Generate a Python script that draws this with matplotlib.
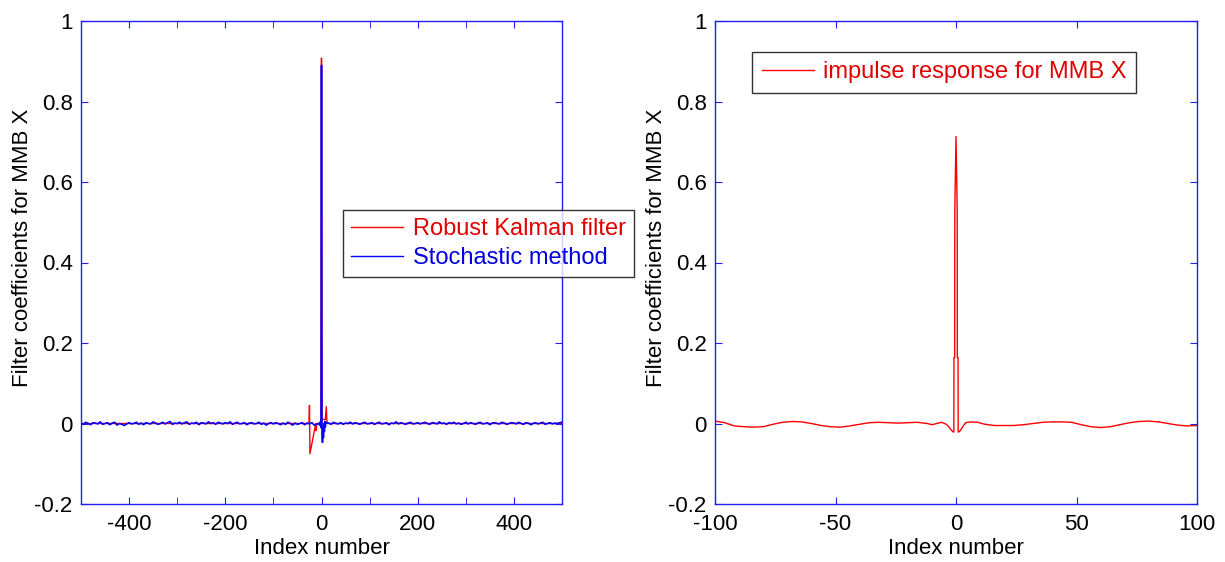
"""Filter coefficients for MMB X: Kalman vs stochastic method, and impulse response."""

import numpy as np
import matplotlib.pyplot as plt
from matplotlib.ticker import FixedLocator

plt.rcParams["font.family"] = ["Liberation Sans", "DejaVu Sans"]
plt.rcParams["axes.unicode_minus"] = False

# ---- left panel data -------------------------------------------------------
# stochastic method: background noise every 5 samples (thousandths)
noise_step = 5
blue_noise_milli = [
    1, -2, 3, 0, -3, 2, 1, -1, 4, -2, 0, 2, -3, 1, 3, -4, 0, -2, -5, -1,
    2, -1, 0, 3, -2, 1, -3, 2, 0, -1, 4, 1, -2, 0, 3, -1, 2, 5, -2, 1,
    0, 3, -1, 2, 4, -2, 1, 0, 3, -3, 2, 1, -1, 4, 0, 2, -2, 3, 1, -1,
    2, 0, 4, -2, 1, 3, -1, 0, 2, -3, 1, 2, -1, 0, 3, -2, 1, -4, 0, 2,
    -1, 2, 0, -3, 1, -2, 3, 0, -4, 1, -2, 0, 2, -3, 1, -1, 2, -4, -2, 0,
    0, -3, 2, 1, -2, 3, 0, -1, 2, -2, 1, 0, 3, -1, 2, 0, -2, 1, 3, -1,
    0, 2, -2, 1, 3, -1, 0, 2, -3, 1, 0, 4, -1, 2, 0, -2, 1, 3, -1, 0,
    2, -1, 1, 3, 0, -2, 2, 1, -1, 4, 0, 1, -2, 2, 0, 3, -1, 1, -2, 0,
    3, -1, 2, 0, -2, 1, 3, -1, 0, 2, -3, 1, 2, 0, -1, 3, 1, -2, 0, 2,
    1, -1, 3, 0, -2, 2, 1, -3, 0, 2, -1, 1, 3, -2, 0, 2, -1, 1, 0, 2,
    3,
]
# stochastic method around the main tap
blue_center_idx = [-4, -2, -1, 0, 1, 2, 3, 4, 5, 6, 7, 8, 9]
blue_center_val = [-0.004, 0.005, -0.01, 0.89, -0.02, -0.047, -0.01,
                   -0.035, 0.0, -0.02, 0.005, -0.008, 0.003]

# robust Kalman filter
red_idx = [-500, -27, -26, -25, -24, -12, -11, -10, -1, 0, 1, 8, 10, 11, 12, 500]
red_val = [0.0, 0.0, 0.0, 0.045, -0.075, 0.0, -0.018, 0.0, 0.0, 0.908,
           0.01, 0.01, 0.042, 0.01, 0.0, 0.0]

# ---- right panel data ------------------------------------------------------
imp_idx = [-100, -96, -92, -88, -84, -80, -76, -72, -68, -64, -60, -56, -52,
           -48, -44, -40, -36, -32, -28, -24, -20, -16, -12, -10, -8, -6, -4,
           -3, -2, -1.2, -0.9, -0.85, -0.55, -0.5, 0, 0.5, 0.55, 0.85, 0.9,
           1.2, 2, 3, 4, 6, 9, 12, 16, 20, 24, 28, 32, 36, 40, 44, 48, 52, 56,
           60, 64, 68, 72, 76, 80, 84, 88, 92, 96, 100]
imp_val = [0.006, 0.002, -0.006, -0.008, -0.009, -0.008, -0.002, 0.003, 0.005,
           0.004, 0.0, -0.005, -0.008, -0.009, -0.006, -0.002, 0.002, 0.003,
           0.002, 0.001, 0.002, 0.003, 0.0, -0.003, 0.0, 0.003, -0.002,
           -0.008, -0.016, -0.021, -0.021, 0.164, 0.164, 0.528, 0.713, 0.528,
           0.164, 0.164, -0.021, -0.021, -0.016, -0.006, 0.002, 0.004, 0.003,
           -0.002, -0.005, -0.005, -0.005, -0.003, 0.0, 0.003, 0.004, 0.004,
           0.003, -0.003, -0.008, -0.010, -0.008, -0.003, 0.002, 0.005, 0.006,
           0.004, 0.0, -0.004, -0.006, -0.005]

y_ticks = [-0.2, 0, 0.2, 0.4, 0.6, 0.8, 1]
y_tick_labels = ["-0.2", "0", "0.2", "0.4", "0.6", "0.8", "1"]

AXIS_BLUE = "#2020ee"
FS = 16
LEG_FS = 17

# assemble the stochastic trace
noise_x = np.arange(-500, 501, noise_step)
noise_y = np.array(blue_noise_milli) * 1e-3
keep = (noise_x <= -5) | (noise_x >= 10)
blue_x = np.concatenate([noise_x[keep], blue_center_idx])
blue_y = np.concatenate([noise_y[keep], blue_center_val])
order = np.argsort(blue_x, kind="stable")
blue_x, blue_y = blue_x[order], blue_y[order]

fig = plt.figure(figsize=(12.25, 5.62), dpi=100, facecolor="white")
ax1 = fig.add_axes([81 / 1225, 58 / 562, 481 / 1225, 483 / 562])
ax2 = fig.add_axes([715 / 1225, 58 / 562, 482 / 1225, 483 / 562])


def style_axes(ax, ylabel_x):
    for sp in ax.spines.values():
        sp.set_color(AXIS_BLUE)
        sp.set_linewidth(1.0)
    ax.tick_params(which="both", direction="in", top=True, right=True,
                   color=AXIS_BLUE, labelsize=FS, labelcolor="black", length=5)
    ax.tick_params(axis="x", pad=7)
    ax.tick_params(axis="y", pad=6)
    ax.set_ylim(-0.2, 1)
    ax.set_yticks(y_ticks)
    ax.set_yticklabels(y_tick_labels)
    ax.set_ylabel("Filter coefficients for MMB X", fontsize=FS)
    ax.yaxis.set_label_coords(ylabel_x, 0.53)
    ax.set_xlabel("Index number", fontsize=FS, labelpad=2)


# left panel
ax1.plot(red_idx, red_val, color="red", linewidth=1.0, label="Robust Kalman filter")
ax1.plot(blue_x, blue_y, color="blue", linewidth=1.2, label="Stochastic method")
style_axes(ax1, -0.10)
ax1.set_xlim(-500, 500)
ax1.set_xticks([-400, -200, 0, 200, 400])
ax1.xaxis.set_minor_locator(FixedLocator([-300, -100, 100, 300]))
leg1 = ax1.legend(loc="upper left", bbox_to_anchor=(0.545, 0.609),
                  borderaxespad=0, fontsize=LEG_FS, frameon=True, fancybox=False,
                  handlelength=2.2, handletextpad=0.4, borderpad=0.35,
                  labelspacing=0.3)
leg1.get_frame().set_edgecolor("black")
leg1.get_frame().set_linewidth(1.0)
for line in leg1.get_lines():
    line.set_linewidth(1.0)
for txt, col in zip(leg1.get_texts(), ["#e00000", "#0000e0"]):
    txt.set_color(col)

# right panel
ax2.plot(imp_idx, imp_val, color="red", linewidth=1.0,
         label="impulse response for MMB X")
style_axes(ax2, -0.10)
ax2.set_xlim(-100, 100)
ax2.set_xticks([-100, -50, 0, 50, 100])
leg2 = ax2.legend(loc="upper left", bbox_to_anchor=(0.077, 0.936),
                  borderaxespad=0, fontsize=LEG_FS, frameon=True, fancybox=False,
                  handlelength=2.2, handletextpad=0.4, borderpad=0.4)
leg2.get_frame().set_edgecolor("black")
leg2.get_frame().set_linewidth(1.0)
leg2.get_texts()[0].set_color("#e00000")

fig.savefig("out.png", dpi=100, facecolor="white")
